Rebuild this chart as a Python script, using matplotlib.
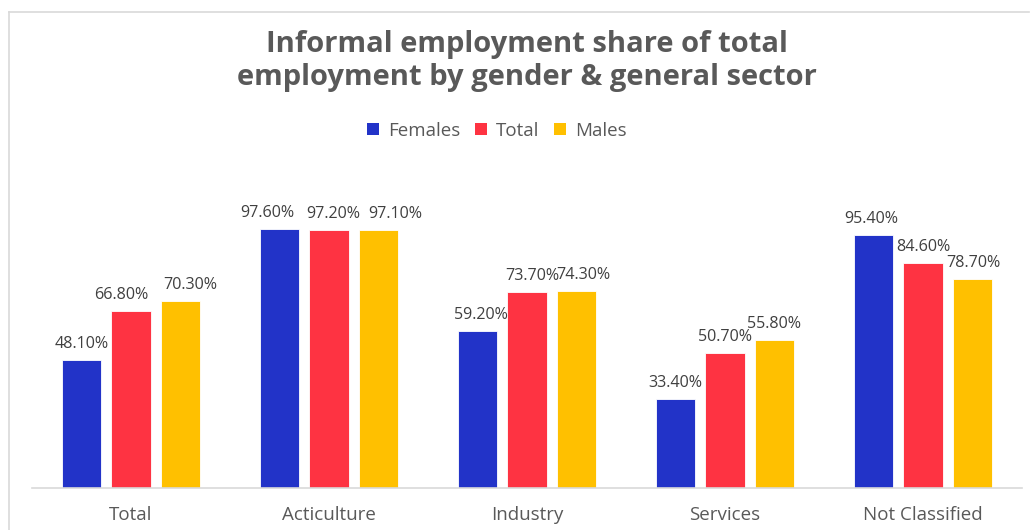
import matplotlib.pyplot as plt
from matplotlib.patches import Patch
from matplotlib.lines import Line2D
import numpy as np

plt.rcParams['font.family'] = ['Open Sans', 'DejaVu Sans']

categories = ['Total', 'Acticulture', 'Industry', 'Services', 'Not Classified']
females = [48.1, 97.6, 59.2, 33.4, 95.4]
total = [66.8, 97.2, 73.7, 50.7, 84.6]
males = [70.3, 97.1, 74.3, 55.8, 78.7]

series = [('Females', females, '#2233c8'),
          ('Total', total, '#fe3342'),
          ('Males', males, '#ffc000')]

# horizontal shifts (pixels) of the value labels so neighbours don't collide
nudges = [[0, -10, 10], [-12, 4, 17], [3, 5, 7], [0, 0, 0], [-2, 0, 1]]

fig = plt.figure(figsize=(10.3, 5.3), dpi=100)
ax = fig.add_axes([32 / 1030, 42 / 530, 990 / 1030, 292 / 530])

x = np.arange(len(categories))
width = 0.2
offsets = [-0.25, 0, 0.25]
for k, ((name, vals, col), off) in enumerate(zip(series, offsets)):
    bars = ax.bar(x + off, vals, width, color=col, edgecolor='white', linewidth=0.6, label=name)
    for i, (b, v) in enumerate(zip(bars, vals)):
        ax.annotate('%.2f%%' % v, (b.get_x() + b.get_width() / 2, v),
                    xytext=(nudges[i][k], 16), textcoords='offset pixels',
                    ha='center', va='center', fontsize=11.6, color='#404040')

ax.set_xlim(-0.5, len(categories) - 0.5)
ax.set_ylim(0, 110)
ax.set_xticks(x)
ax.set_xticklabels(categories, fontsize=13.5, color='#595959')
ax.tick_params(axis='x', length=0, pad=13)
ax.set_yticks([])
for s in ['top', 'right', 'left']:
    ax.spines[s].set_visible(False)
ax.spines['bottom'].set_color('#d9d9d9')
ax.spines['bottom'].set_linewidth(1.2)

fig.text(527 / 1030, 1 - 61 / 530, 'Informal employment share of total\nemployment by gender & general sector',
         ha='center', va='center', fontsize=21, fontweight='bold', color='#595959', linespacing=1.2)

handles = [Patch(facecolor=c, edgecolor='none') for _, _, c in series]
fig.legend(handles, [n for n, _, _ in series], loc='center', bbox_to_anchor=(497 / 1030, 1 - 131 / 530),
           ncol=3, frameon=False, fontsize=13.5, handlelength=0.6, handleheight=0.6,
           handletextpad=0.5, columnspacing=0.8, labelcolor='#595959')

# light frame around the chart
fig.add_artist(Line2D([9 / 1030, 9 / 1030], [0, 1 - 12 / 530], color='#d9d9d9', lw=1.2))
fig.add_artist(Line2D([9 / 1030, 1029 / 1030], [1 - 12 / 530, 1 - 12 / 530], color='#d9d9d9', lw=1.2))

fig.savefig('out.png', dpi=100)
